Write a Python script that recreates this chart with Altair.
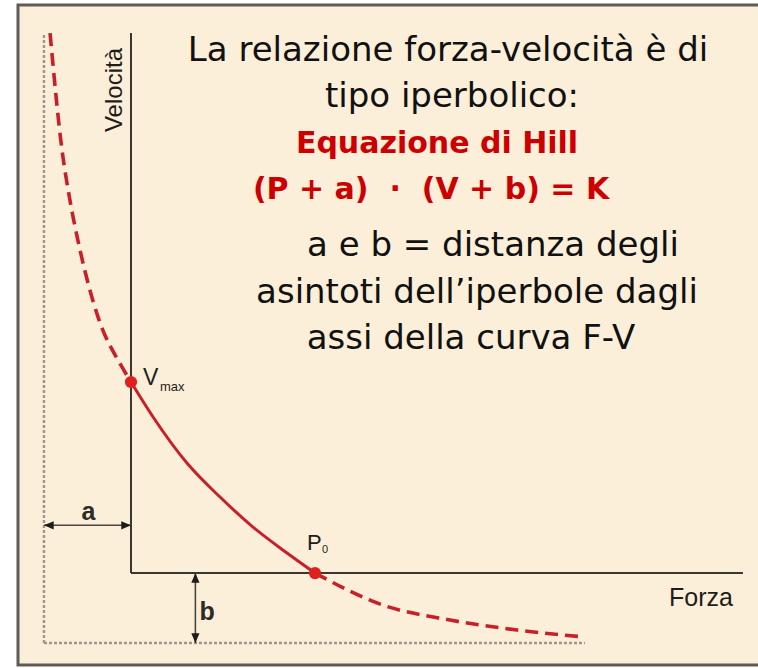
import altair as alt
import pandas as pd

# Curva forza-velocità (unità arbitrarie: P0 = 100, Vmax = 100)
forza = [-44.0, -37.5, -33.2, -27.7, -17.9, -4.9, 0.0, 12.0, 30.4, 48.4,
         66.3, 84.8, 100.0, 137.0, 173.4, 209.8, 246.7]
velocita = [282.7, 221.5, 195.3, 169.1, 134.0, 107.9, 100.0, 81.7, 57.6,
            39.8, 24.1, 10.5, 0.0, -16.8, -24.6, -29.8, -33.5]

# punti notevoli
punti_nome = ["Vmax", "P0"]
punti_forza = [0.0, 100.0]
punti_velocita = [100.0, 0.0]

# distanze degli asintoti dagli assi
a_dist = 47.3
b_dist = 36.6
forza_fine = 332.6      # estremo asse delle forze
velocita_fine = 282.7   # estremo asse delle velocità
curva_fine = 246.7
freccia_a_v = 25.0
freccia_b_f = 35.0

CREMA = "#FCEFD9"
ROSSO = "#C8202B"
ASSE = "#3a3731"
SANS = "Liberation Sans"
TESTO = "DejaVu Sans"

xs = alt.Scale(domain=[-71.2, 340.8], nice=False, zero=False)
ys = alt.Scale(domain=[-49.7, 300], nice=False, zero=False)

# --- curva: tratteggiata prima di Vmax e dopo P0, continua tra i due
rows = []
seg_idx = {"sopra": range(0, 7), "fisiologico": range(6, 13), "sotto": range(12, 17)}
for nome, idx in seg_idx.items():
    for k, i in enumerate(idx):
        rows.append({"tratto": nome, "ordine": k, "F": forza[i], "V": velocita[i]})
curva = pd.DataFrame(rows)


def enc_xy(f="F", v="V"):
    return dict(x=alt.X(f"{f}:Q", scale=xs, axis=None),
                y=alt.Y(f"{v}:Q", scale=ys, axis=None))


base_curva = alt.Chart(curva)
tratteggio = base_curva.mark_line(
    color=ROSSO, strokeWidth=3.6, strokeDash=[13, 7], interpolate="monotone"
).encode(**enc_xy(), order="ordine:Q", detail="tratto:N").transform_filter(
    alt.datum.tratto != "fisiologico")
continua = base_curva.mark_line(
    color=ROSSO, strokeWidth=3, interpolate="monotone"
).encode(**enc_xy(), order="ordine:Q").transform_filter(
    alt.datum.tratto == "fisiologico")

# --- assi e asintoti
guide = pd.DataFrame({
    "tipo": ["asse", "asse", "asintoto", "asintoto"],
    "F1": [0.0, 0.0, -a_dist, -a_dist],
    "V1": [0.0, 0.0, -b_dist, -b_dist],
    "F2": [forza_fine, 0.0, curva_fine, -a_dist],
    "V2": [0.0, velocita_fine, -b_dist, velocita_fine],
})
assi = alt.Chart(guide).mark_rule(color=ASSE, strokeWidth=2).encode(
    x=alt.X("F1:Q", scale=xs, axis=None), y=alt.Y("V1:Q", scale=ys, axis=None),
    x2="F2:Q", y2="V2:Q").transform_filter(alt.datum.tipo == "asse")
asintoti = alt.Chart(guide).mark_rule(
    color="#9e9789", strokeWidth=2.4, strokeDash=[3, 2]).encode(
    x=alt.X("F1:Q", scale=xs, axis=None), y=alt.Y("V1:Q", scale=ys, axis=None),
    x2="F2:Q", y2="V2:Q").transform_filter(alt.datum.tipo == "asintoto")

# --- frecce a e b
frecce = pd.DataFrame({
    "nome": ["a", "b"],
    "F1": [-a_dist, freccia_b_f], "V1": [freccia_a_v, 0.0],
    "F2": [0.0, freccia_b_f], "V2": [freccia_a_v, -b_dist],
})
frecce_linee = alt.Chart(frecce).mark_rule(color="#4a463f", strokeWidth=1.6).encode(
    x=alt.X("F1:Q", scale=xs, axis=None), y=alt.Y("V1:Q", scale=ys, axis=None),
    x2="F2:Q", y2="V2:Q")


def punta(f, v, path):
    return alt.Chart(pd.DataFrame({"F": [f], "V": [v]})).mark_point(
        shape=path, filled=True, size=380, color="#1e1c19", opacity=1,
        strokeWidth=0).encode(**enc_xy())


punte = [
    punta(-a_dist, freccia_a_v, "M0,0L1,-0.42L1,0.42Z"),
    punta(0.0, freccia_a_v, "M0,0L-1,-0.42L-1,0.42Z"),
    punta(freccia_b_f, 0.0, "M0,0L-0.42,1L0.42,1Z"),
    punta(freccia_b_f, -b_dist, "M0,0L-0.42,-1L0.42,-1Z"),
]

# --- punti Vmax e P0
punti = pd.DataFrame({"nome": punti_nome, "F": punti_forza, "V": punti_velocita})
pallini = alt.Chart(punti).mark_circle(size=150, color="#E0201E", opacity=1).encode(**enc_xy())


def etichetta(df, testo, size, dx, dy, align="left", weight="normal", color="#1f1d1a"):
    return alt.Chart(df).mark_text(
        text=testo, font=SANS, fontSize=size, dx=dx, dy=dy, align=align,
        baseline="alphabetic", fontWeight=weight, color=color).encode(**enc_xy())


vmax_df = punti[punti.nome == "Vmax"]
p0_df = punti[punti.nome == "P0"]
lab_vmax = etichetta(vmax_df, "V", 23, 12, 3)
lab_vmax_sub = etichetta(vmax_df, "max", 13, 29, 9)
lab_p0 = etichetta(p0_df, "P", 22, -8, -23)
lab_p0_sub = etichetta(p0_df, "0", 11, 7, -20)

lab_a = etichetta(pd.DataFrame({"F": [-a_dist / 2], "V": [freccia_a_v]}), "a", 25, 1, -5,
                  align="center", weight="bold", color="#2e2b27")
lab_b = etichetta(pd.DataFrame({"F": [freccia_b_f], "V": [-b_dist / 2]}), "b", 25, 4, 12,
                  weight="bold", color="#2e2b27")
lab_forza = etichetta(pd.DataFrame({"F": [forza_fine], "V": [0.0]}), "Forza", 25, -10, 33,
                      align="right")

lab_vel = alt.Chart(pd.DataFrame({"F": [0.0], "V": [velocita_fine]})).mark_text(
    text="Velocità", font=SANS, fontSize=24, angle=270, align="center",
    baseline="alphabetic", dx=-57, dy=-9, color="#1f1d1a").encode(**enc_xy())

# --- riquadro
cornice = alt.Chart(pd.DataFrame({"k": [0]})).mark_rect(
    fill=CREMA, stroke="#5f5c57", strokeWidth=3).encode(
    x=alt.value(18), x2=alt.value(800), y=alt.value(5), y2=alt.value(665))

# --- testo esplicativo
NB = "\u00a0"
righe = [
    ("La relazione forza-velocità è di", 448, 61, "#111111", "normal", 34),
    ("tipo iperbolico:", 452, 107, "#111111", "normal", 34),
    ("Equazione di Hill", 437, 153, "#CC0000", "bold", 30),
    ("(P + a)" + NB * 2 + "·" + NB * 2 + "(V + b) = K", 431, 199, "#CC0000", "bold", 30),
    ("a e b = distanza degli", 493, 256, "#111111", "normal", 34),
    ("asintoti dell’iperbole dagli", 477, 303, "#111111", "normal", 34),
    ("assi della curva F-V", 471, 349, "#111111", "normal", 34),
]
testi = [
    alt.Chart(pd.DataFrame({"k": [0]})).mark_text(
        text=t, font=TESTO, fontSize=s, align="center", baseline="alphabetic",
        color=c, fontWeight=w).encode(x=alt.value(x), y=alt.value(y))
    for t, x, y, c, w, s in righe
]

chart = alt.layer(
    cornice, asintoti, assi, frecce_linee, *punte, tratteggio, continua, pallini,
    lab_vmax, lab_vmax_sub, lab_p0, lab_p0_sub, lab_a, lab_b, lab_forza, lab_vel,
    *testi
).properties(
    width=758, height=668, autosize="none", padding=0, background="white"
).configure_view(stroke=None)

chart.save("out.html", embed_options={"renderer": "svg", "actions": False})
